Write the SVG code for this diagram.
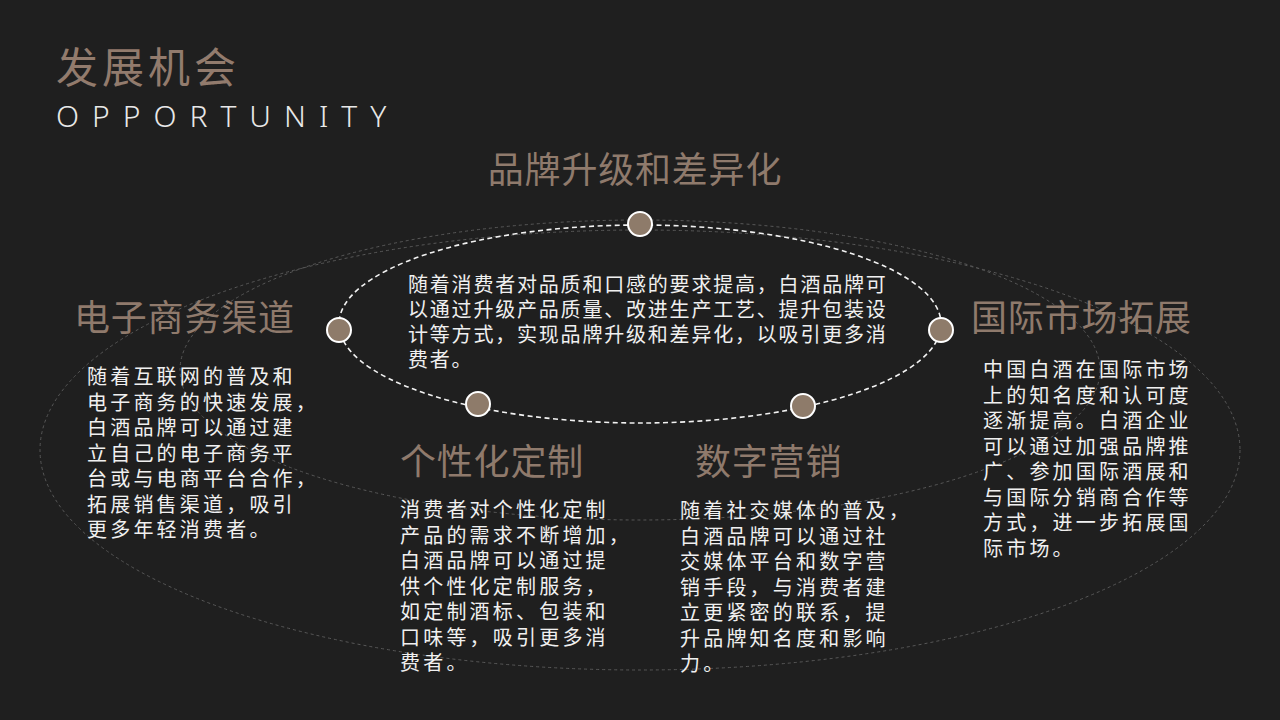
<svg xmlns="http://www.w3.org/2000/svg" width="1280" height="720" viewBox="0 0 1280 720">
  <defs>
    <style>
      .bg { fill: #1f1f1f; }
      .title { font-family: "Noto Sans CJK SC", "Noto Sans", sans-serif; font-size: 42px; fill: #927b6d; letter-spacing: 4px; }
      .subtitle { font-family: "Noto Sans", "Liberation Sans", sans-serif; font-size: 30px; fill: #e8e8e8; letter-spacing: 13px; font-weight: 300; }
      .head { font-family: "Noto Sans CJK SC", "Noto Sans", sans-serif; font-size: 36px; fill: #8f7a6c; letter-spacing: 0.8px; }
      .body { font-family: "Noto Sans CJK SC", "Noto Sans", sans-serif; font-size: 20px; fill: #f0f0f0; letter-spacing: 3.2px; }
      .body-c { font-family: "Noto Sans CJK SC", "Noto Sans", sans-serif; font-size: 20px; fill: #f0f0f0; letter-spacing: 1.8px; }
      .faint { fill: none; stroke: #585858; stroke-width: 1; stroke-dasharray: 3 3; }
      .ring { fill: none; stroke: #f2f2f2; stroke-width: 1.6; stroke-dasharray: 5 3.5; }
      .dot { fill: #8e7b6a; stroke: #ffffff; stroke-width: 2; }
    </style>
  </defs>

  <rect class="bg" x="0" y="0" width="1280" height="720"/>

  <g id="connectors">
    <ellipse class="faint" cx="640" cy="450" rx="600" ry="220"/>
    <ellipse class="faint" cx="640" cy="370" rx="460" ry="150"/>
    <ellipse class="ring" cx="640" cy="324" rx="301" ry="99"/>
  </g>

  <g id="title">
    <text class="title" x="56" y="83">发展机会</text>
    <text class="subtitle" x="56" y="127">OPPORTUNITY</text>
  </g>

  <g id="node-brand">
    <text class="head" x="635" y="183" text-anchor="middle">品牌升级和差异化</text>
    <circle class="dot" cx="640" cy="224" r="12"/>
    <text class="body-c">
      <tspan x="408" y="291.5">随着消费者对品质和口感的要求提高，白酒品牌可</tspan>
      <tspan x="408" y="316.5">以通过升级产品质量、改进生产工艺、提升包装设</tspan>
      <tspan x="408" y="341.5">计等方式，实现品牌升级和差异化，以吸引更多消</tspan>
      <tspan x="408" y="366.5">费者。</tspan>
    </text>
  </g>

  <g id="node-ecommerce">
    <text class="head" x="74" y="331">电子商务渠道</text>
    <circle class="dot" cx="339" cy="330" r="12"/>
    <text class="body">
      <tspan x="87" y="384">随着互联网的普及和</tspan>
      <tspan x="87" y="409.5">电子商务的快速发展，</tspan>
      <tspan x="87" y="435">白酒品牌可以通过建</tspan>
      <tspan x="87" y="460.5">立自己的电子商务平</tspan>
      <tspan x="87" y="486">台或与电商平台合作，</tspan>
      <tspan x="87" y="511.5">拓展销售渠道，吸引</tspan>
      <tspan x="87" y="537">更多年轻消费者。</tspan>
    </text>
  </g>

  <g id="node-international">
    <text class="head" x="971" y="331">国际市场拓展</text>
    <circle class="dot" cx="941" cy="330" r="12"/>
    <text class="body">
      <tspan x="983" y="377">中国白酒在国际市场</tspan>
      <tspan x="983" y="402.5">上的知名度和认可度</tspan>
      <tspan x="983" y="428">逐渐提高。白酒企业</tspan>
      <tspan x="983" y="453.5">可以通过加强品牌推</tspan>
      <tspan x="983" y="479">广、参加国际酒展和</tspan>
      <tspan x="983" y="504.5">与国际分销商合作等</tspan>
      <tspan x="983" y="530">方式，进一步拓展国</tspan>
      <tspan x="983" y="555.5">际市场。</tspan>
    </text>
  </g>

  <g id="node-custom">
    <text class="head" x="400" y="475">个性化定制</text>
    <circle class="dot" cx="478" cy="404" r="12"/>
    <text class="body">
      <tspan x="400" y="517">消费者对个性化定制</tspan>
      <tspan x="400" y="542.5">产品的需求不断增加，</tspan>
      <tspan x="400" y="568">白酒品牌可以通过提</tspan>
      <tspan x="400" y="593.5">供个性化定制服务，</tspan>
      <tspan x="400" y="619">如定制酒标、包装和</tspan>
      <tspan x="400" y="644.5">口味等，吸引更多消</tspan>
      <tspan x="400" y="670">费者。</tspan>
    </text>
  </g>

  <g id="node-digital">
    <text class="head" x="695" y="475">数字营销</text>
    <circle class="dot" cx="803" cy="406" r="12"/>
    <text class="body">
      <tspan x="680" y="518">随着社交媒体的普及，</tspan>
      <tspan x="680" y="543.5">白酒品牌可以通过社</tspan>
      <tspan x="680" y="569">交媒体平台和数字营</tspan>
      <tspan x="680" y="594.5">销手段，与消费者建</tspan>
      <tspan x="680" y="620">立更紧密的联系，提</tspan>
      <tspan x="680" y="645.5">升品牌知名度和影响</tspan>
      <tspan x="680" y="671">力。</tspan>
    </text>
  </g>
</svg>
